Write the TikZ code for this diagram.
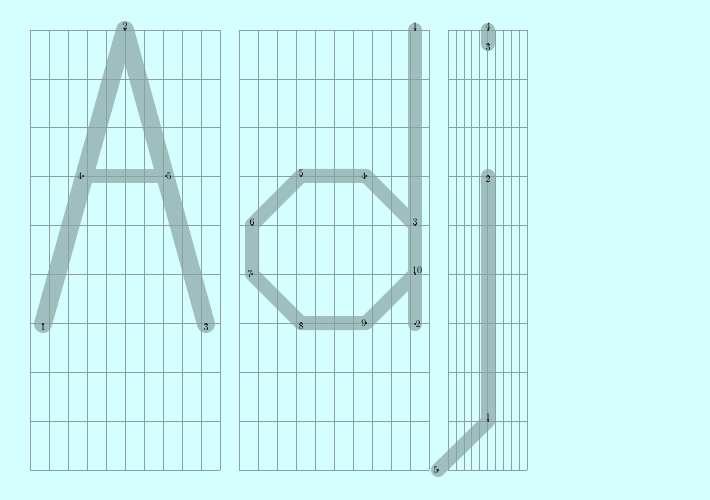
\documentclass[tikz,border=0pt]{standalone}
\usetikzlibrary{positioning}
\definecolor{fondo}{HTML}{D5FFFF}
\definecolor{rejilla}{HTML}{8CA0A0}
\definecolor{pluma}{HTML}{9FBFBF}

\begin{document}
\begin{tikzpicture}[x=1pt,y=-1pt,
      reja/.style={draw=rejilla,line width=0.6pt},
      trazo/.style={draw=pluma,line width=14pt,line cap=round,line join=round},
      etiq/.style={inner sep=0.5pt,font=\normalsize},
      node distance=0.5pt]
    \fill[fondo] (0,0) rectangle (710,500);
    \useasboundingbox (0,0) rectangle (710,500);
    % puntos de la A
    \coordinate (a1) at (43,324);
    \coordinate (a2) at (125,30);
    \coordinate (a3) at (206,324);
    \coordinate (a4) at (83,176);
    \coordinate (a5) at (166,176);
    % puntos de la d
    \coordinate (d1) at (415,30);
    \coordinate (d2) at (415,324);
    \coordinate (d3) at (415,225);
    \coordinate (d4) at (366,176);
    \coordinate (d5) at (301,176);
    \coordinate (d6) at (252,225);
    \coordinate (d7) at (252,274);
    \coordinate (d8) at (301,323);
    \coordinate (d9) at (366,323);
    \coordinate (d10) at (415,274);
    % puntos de la j
    \coordinate (j1) at (488,421);
    \coordinate (j2) at (488,176);
    \coordinate (j3) at (488,44);
    \coordinate (j4) at (488,30);
    \coordinate (j5) at (438,470);
    % trazos de la pluma
    \draw[trazo,line width=18pt] (a1) -- (a2) -- (a3);
    \draw[trazo] (a4) -- (a5);
    \draw[trazo] (d1) -- (d2);
    \draw[trazo] (d3) -- (d4) -- (d5) -- (d6) -- (d7) -- (d8) -- (d9) -- (d10);
    \draw[trazo] (j4) -- (j3);
    \draw[trazo] (j2) -- (j1) -- (j5);
    % rejillas
    \begin{scope}[shift={(30,470)},x=19pt,y=48.889pt]
      \draw[reja,step=1] (0,0) grid (10,9);
    \end{scope}
    \begin{scope}[shift={(239,470)},x=19pt,y=48.889pt]
      \draw[reja,step=1] (0,0) grid (10,9);
    \end{scope}
    \begin{scope}[shift={(448,470)},x=7.93pt,y=48.889pt]
      \draw[reja,step=1] (0,0) grid (10,9);
    \end{scope}
    % puntos
    \foreach \p in {a1,a2,a3,a4,a5,d1,d2,d3,d4,d5,d6,d7,d8,d9,d10,j1,j2,j3,j4,j5}
      \fill (\p) circle (1pt);
    % etiquetas
    \node[etiq,below=-1pt of a1] (ea1) {1};
    \node[etiq,above=0pt of a2] (ea2) {2};
    \node[etiq,below=-1pt of a3] (ea3) {3};
    \node[etiq,left=0pt of a4] (ea4) {4};
    \node[etiq,right=0pt of a5] (ea5) {5};
    \node[etiq,above=0pt of d1] (ed1) {1};
    \node[etiq,right=0pt of d2] (ed2) {2};
    \node[etiq,above=-1pt of d3] (ed3) {3};
    \node[etiq,left=-1pt of d4] (ed4) {4};
    \node[etiq,above=-1pt of d5] (ed5) {5};
    \node[etiq,above=-1pt of d6] (ed6) {6};
    \node[etiq,left=-1pt of d7] (ed7) {7};
    \node[etiq,below=-1pt of d8] (ed8) {8};
    \node[etiq,left=-1pt of d9] (ed9) {9};
    \node[etiq,above=0pt of d10,xshift=2pt] (ed10) {10};
    \node[etiq,above=0pt of j1] (ej1) {1};
    \node[etiq,below=-1pt of j2] (ej2) {2};
    \node[etiq,below=-1pt of j3] (ej3) {3};
    \node[etiq,above=0pt of j4] (ej4) {4};
    \node[etiq,left=-1pt of j5] (ej5) {5};
  \end{tikzpicture}
\end{document}
